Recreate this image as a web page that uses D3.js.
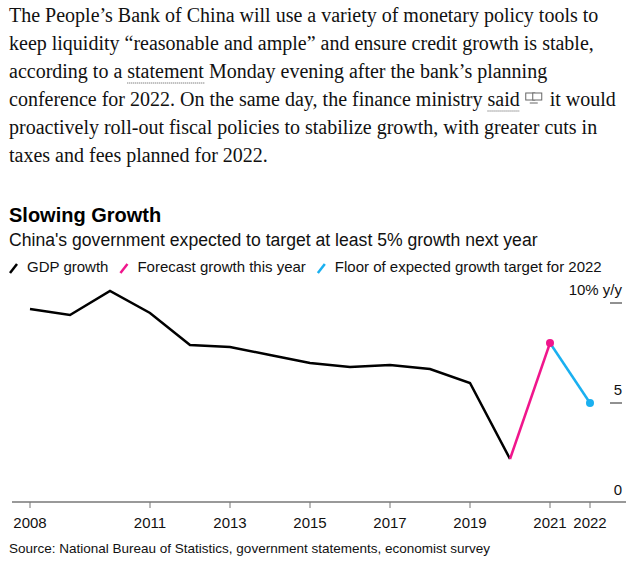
<!DOCTYPE html>
<html><head><meta charset="utf-8">
<script src="https://cdn.jsdelivr.net/npm/d3@7"></script>
<style>body{margin:0;background:#fff}</style></head>
<body><div id="chart"></div>
<script>
const paragraph = [
  ["The People\u2019s Bank of China will use a variety of monetary policy tools to"],
  ["keep liquidity \u201creasonable and ample\u201d and ensure credit growth is stable,"],
  ["according to a ", {u: "statement"}, " Monday evening after the bank\u2019s planning"],
  ["conference for 2022. On the same day, the finance ministry ", {u: "said"}, {icon: true}, "it would"],
  ["proactively roll-out fiscal policies to stabilize growth, with greater cuts in"],
  ["taxes and fees planned for 2022."]
];
const years = [2008, 2009, 2010, 2011, 2012, 2013, 2014, 2015, 2016, 2017, 2018, 2019, 2020];
const gdp = [9.7, 9.4, 10.6, 9.5, 7.9, 7.8, 7.4, 7.0, 6.8, 6.9, 6.7, 6.0, 2.2];
const forecast = [[2020, 2.2], [2021, 8.0]];
const target = [[2021, 8.0], [2022, 5.0]];
const tickYears = [2008, 2011, 2013, 2015, 2017, 2019, 2021, 2022];
const yTicks = [0, 5, 10];
const legend = [["GDP growth", "#000"], ["Forecast growth this year", "#f0168c"], ["Floor of expected growth target for 2022", "#1ab0f0"]];

const W = 641, H = 567;
const svg = d3.select("#chart").append("svg").attr("width", W).attr("height", H);
const sans = "Liberation Sans, Arial, sans-serif";

// paragraph
paragraph.forEach((line, i) => {
  const by = 22 + i * 28;
  const t = svg.append("text").attr("x", 9).attr("y", by)
    .style("font-family", "Liberation Serif, serif").style("font-size", "20px").attr("fill", "#111");
  line.forEach(part => {
    if (typeof part === "string") t.append("tspan").text(part);
    else if (part.u) t.append("tspan").attr("class", "u").text(part.u);
    else t.append("tspan").attr("class", "icon").text("\u2003\u2002");
  });
  t.selectAll("tspan.u").each(function() {
    const b = this.getBBox();
    svg.append("line").attr("x1", b.x).attr("x2", b.x + b.width).attr("y1", by + 5).attr("y2", by + 5)
      .attr("stroke", "#555").attr("stroke-dasharray", "1,1");
  });
  t.selectAll("tspan.icon").each(function() {
    const b = this.getBBox(), cx = b.x + b.width / 2 - 1;
    svg.append("rect").attr("x", cx - 8).attr("y", by - 13).attr("width", 9).attr("height", 7).attr("fill", "none").attr("stroke", "#666");
    svg.append("rect").attr("x", cx - 1).attr("y", by - 13).attr("width", 9).attr("height", 7).attr("fill", "#fff").attr("stroke", "#666");
    svg.append("line").attr("x1", cx - 4).attr("x2", cx + 4).attr("y1", by - 3).attr("y2", by - 3).attr("stroke", "#666");
  });
});

// headings
svg.append("text").attr("x", 9).attr("y", 222).text("Slowing Growth")
  .style("font-family", sans).style("font-weight", "bold").style("font-size", "20px");
svg.append("text").attr("x", 9).attr("y", 246).text("China's government expected to target at least 5% growth next year")
  .style("font-family", sans).style("font-size", "17.6px").attr("fill", "#111");

let lx = 9;
legend.forEach(([label, c]) => {
  svg.append("line").attr("x1", lx + 1).attr("x2", lx + 8).attr("y1", 273).attr("y2", 264).attr("stroke", c).attr("stroke-width", 2.5);
  const t = svg.append("text").attr("x", lx + 18).attr("y", 272).text(label)
    .style("font-family", sans).style("font-size", "15px").attr("fill", "#111");
  lx += 18 + t.node().getComputedTextLength() + 11;
});

// scales
const x = d3.scaleLinear().domain([2008, 2022]).range([30, 590]);
const y = d3.scaleLinear().domain([0, 10]).range([503, 303]);

svg.append("line").attr("x1", 12).attr("x2", 626).attr("y1", 502).attr("y2", 502).attr("stroke", "#777").attr("stroke-width", 1.5);
svg.append("g").selectAll("line").data(tickYears).join("line")
  .attr("x1", d => x(d)).attr("x2", d => x(d)).attr("y1", 502).attr("y2", 508).attr("stroke", "#777");
svg.append("g").selectAll("text").data(tickYears).join("text")
  .attr("x", d => x(d)).attr("y", 528).attr("text-anchor", "middle").text(d => d)
  .style("font-family", sans).style("font-size", "15px").attr("fill", "#111");

yTicks.forEach(v => {
  if (v > 0) svg.append("line").attr("x1", 610).attr("x2", 622).attr("y1", y(v)).attr("y2", y(v)).attr("stroke", "#222");
  svg.append("text").attr("x", 622).attr("y", y(v) - 8).attr("text-anchor", "end")
    .text(v === 10 ? "10% y/y" : v).style("font-family", sans).style("font-size", "15px").attr("fill", "#111");
});

const line = d3.line().x(d => x(d[0])).y(d => y(d[1]));
svg.append("path").attr("d", line(years.map((yr, i) => [yr, gdp[i]]))).attr("fill", "none").attr("stroke", "#000").attr("stroke-width", 2.5);
svg.append("path").attr("d", line(forecast)).attr("fill", "none").attr("stroke", "#f0168c").attr("stroke-width", 2.5);
svg.append("path").attr("d", line(target)).attr("fill", "none").attr("stroke", "#1ab0f0").attr("stroke-width", 2.5);
svg.append("circle").attr("cx", x(2021)).attr("cy", y(8.0)).attr("r", 4).attr("fill", "#f0168c");
svg.append("circle").attr("cx", x(2022)).attr("cy", y(5.0)).attr("r", 4).attr("fill", "#1ab0f0");

svg.append("text").attr("x", 9).attr("y", 553).text("Source: National Bureau of Statistics, government statements, economist survey")
  .style("font-family", sans).style("font-size", "13.5px").attr("fill", "#111");
</script></body></html>
